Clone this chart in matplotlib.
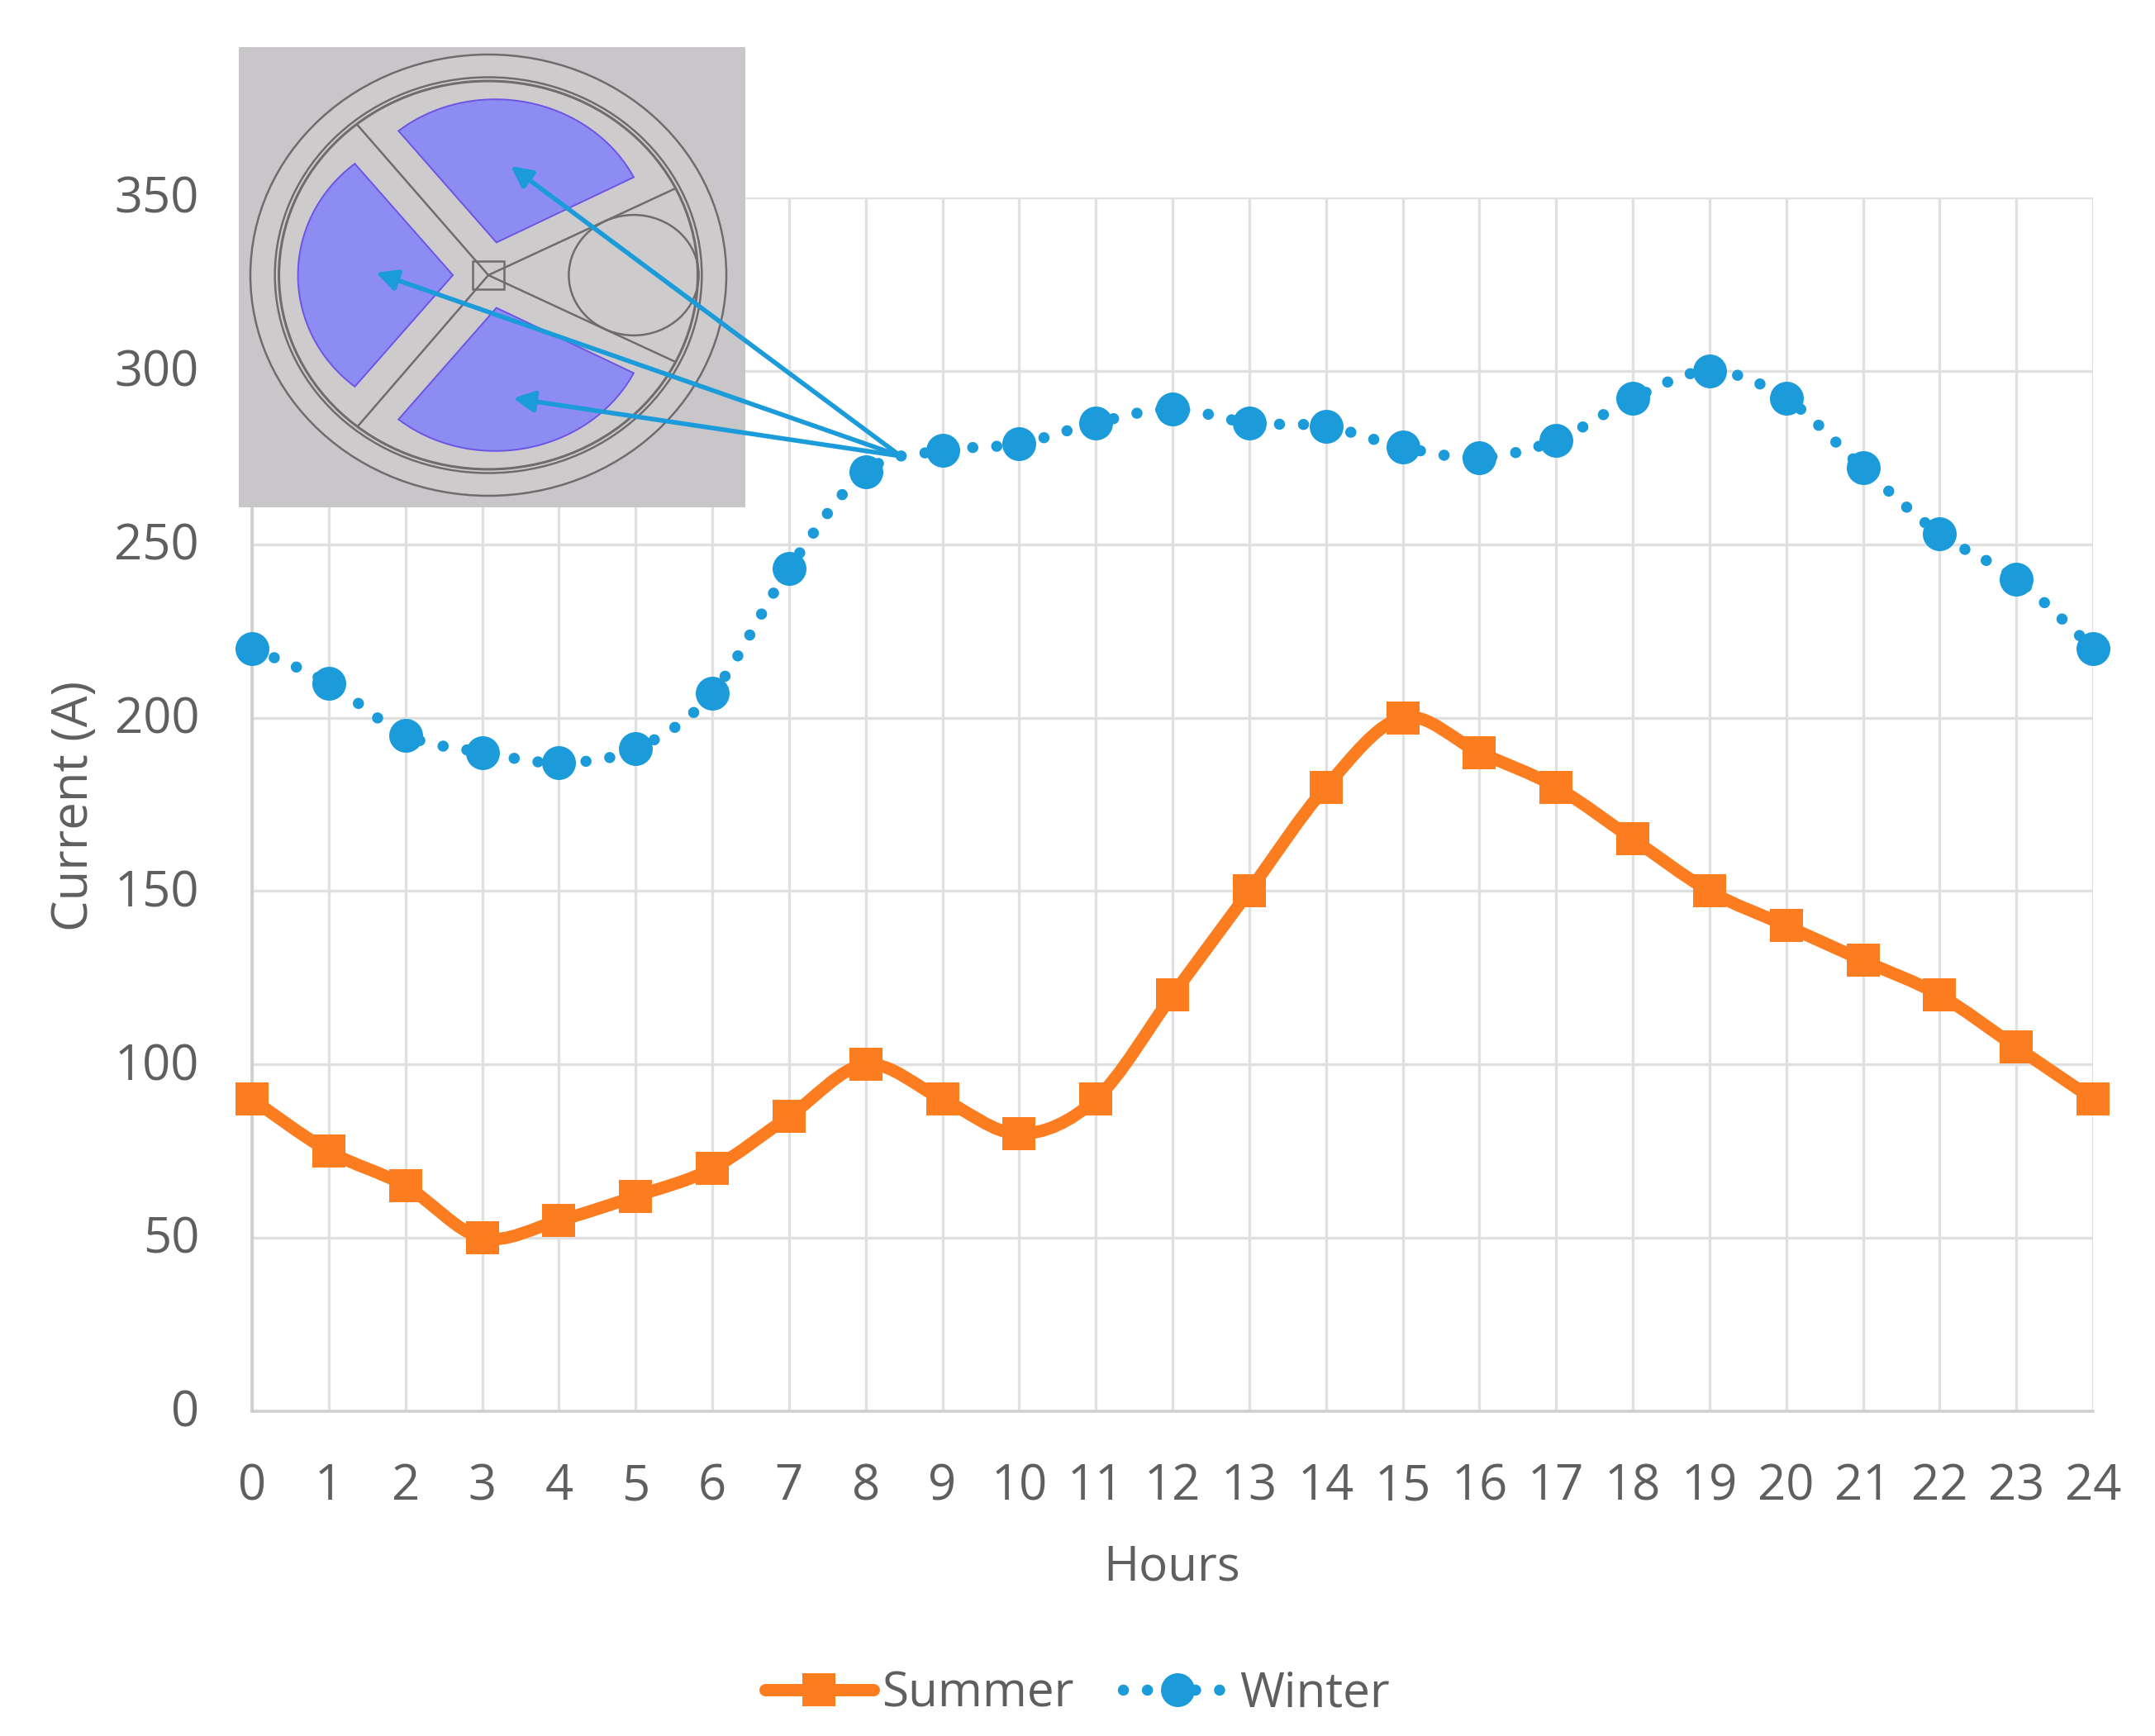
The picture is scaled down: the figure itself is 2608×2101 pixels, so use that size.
import numpy as np
import matplotlib
matplotlib.use("Agg")
import matplotlib.pyplot as plt
from matplotlib.lines import Line2D
from matplotlib.patches import PathPatch, Polygon, Rectangle, Circle
from matplotlib.path import Path
from matplotlib.transforms import ScaledTranslation

plt.rcParams['font.family'] = ['Open Sans', 'DejaVu Sans']

hours = list(range(25))
summer = [90, 75, 65, 50, 55, 62, 70, 85, 100, 90, 80, 90, 120, 150, 180, 200,
          190, 180, 165, 150, 140, 130, 120, 105, 90]
winter = [220, 210, 195, 190, 187, 191, 207, 243, 271, 277, 279, 285, 289, 285,
          284, 278, 275, 280, 292, 300, 292, 272, 253, 240, 220]
y_ticks = [0, 50, 100, 150, 200, 250, 300, 350]

W, H = 2608, 2101
ORANGE = '#FB7D20'
BLUE = '#1B9BD9'
GREY_TEXT = '#5F5F5F'
GRID = '#E0E0E0'


def fx(px):
    return px / W


def fy(py):
    return 1 - py / H


def smooth_path(x, y):
    # same kind of smoothing as a spreadsheet "smoothed line"
    pts = np.column_stack([x, y]).astype(float)
    verts = [pts[0]]
    codes = [Path.MOVETO]
    for i in range(len(pts) - 1):
        prev = pts[max(i - 1, 0)]
        nxt = pts[min(i + 2, len(pts) - 1)]
        verts.append(pts[i] + (pts[i + 1] - prev) / 6)
        verts.append(pts[i + 1] - (nxt - pts[i]) / 6)
        verts.append(pts[i + 1])
        codes += [Path.CURVE4] * 3
    return Path(verts, codes)


fig = plt.figure(figsize=(W / 100, H / 100), dpi=100)
ax = fig.add_axes([fx(305), fy(1708), fx(2533 - 305), (1708 - 239) / H])

ax.set_xlim(0, 24)
ax.set_ylim(0, 350)
ax.set_xticks(hours)
ax.set_yticks(y_ticks)
ax.grid(True, color=GRID, lw=2.4)
ax.set_axisbelow(True)
for side, s in ax.spines.items():
    if side in ('left', 'bottom'):
        s.set_color('#CFCFCF')
        s.set_linewidth(2.6)
    else:
        s.set_visible(False)
ax.tick_params(axis='x', length=0, pad=44, labelsize=43, labelcolor=GREY_TEXT)
ax.tick_params(axis='y', length=0, pad=46, labelsize=43, labelcolor=GREY_TEXT)

# y labels sit a little higher than centred on the grid line
up = ScaledTranslation(0, 3 / 72, fig.dpi_scale_trans)
for tick in ax.yaxis.get_major_ticks():
    tick.label1.set_transform(tick.label1.get_transform() + up)

ax.add_patch(PathPatch(smooth_path(hours, summer), fill=False, ec=ORANGE, lw=10.8,
                       capstyle='round', joinstyle='round', zorder=3, clip_on=False))
ax.add_patch(PathPatch(smooth_path(hours, winter), fill=False, ec=BLUE, lw=9.7,
                       linestyle=(0, (0.01, 2.15)), capstyle='round', zorder=3, clip_on=False))
ax.plot(hours, summer, ls='none', marker='s', ms=29, color=ORANGE, mew=0, zorder=4, clip_on=False)
ax.plot(hours, winter, ls='none', marker='o', ms=29.5, color=BLUE, mew=0, zorder=4, clip_on=False)

ax.set_xlabel('Hours', fontsize=42, color=GREY_TEXT, va='center')
ax.xaxis.set_label_coords(fx(1418), fy(1897), transform=fig.transFigure)
ax.set_ylabel('Current (A)', fontsize=43, color=GREY_TEXT, va='center')
ax.yaxis.set_label_coords(fx(90), fy(975), transform=fig.transFigure)

handles = [
    Line2D([], [], color=ORANGE, lw=10.8, marker='s', ms=29, mew=0, solid_capstyle='round'),
    Line2D([], [], color=BLUE, lw=9.7, ls=(0, (0.01, 2.15)), marker='o', ms=29.5, mew=0,
           dash_capstyle='round'),
]
fig.legend(handles, ['Summer', 'Winter'], loc='center', bbox_to_anchor=(fx(1304), fy(2050)),
           ncol=2, frameon=False, fontsize=42, labelcolor=GREY_TEXT, numpoints=1,
           handlelength=2.25, handletextpad=0.17, columnspacing=1.03, borderpad=0)

# inset picture, unit circle stretched a bit like in the original
inset = fig.add_axes([fx(289), fy(614), fx(902 - 289), (614 - 57) / H], zorder=5)
inset.set_xlim(-302 / 288, 311 / 288)
inset.set_ylim(-281 / 267, 276 / 267)
inset.set_xticks([])
inset.set_yticks([])
inset.set_facecolor('#C8C6C8')
for s in inset.spines.values():
    s.set_visible(False)

LINE = '#6E6C6E'
inset.add_patch(Circle((0, 0), 1.0, fc='#CDCBCB', ec=LINE, lw=1.8))
inset.add_patch(Circle((0, 0), 0.897, fc='none', ec=LINE, lw=1.8))
inset.add_patch(Circle((0, 0), 0.88, fc='none', ec=LINE, lw=2.2))

sectors = [((-0.149, 0.0), 180), ((0.034, 0.148), 78), ((0.034, -0.148), -78)]
for apex, mid in sectors:
    t = np.linspace(-1, 1, 60)
    ang = np.radians(mid + 42 * t)
    r = 0.8 - 0.045 * t ** 2
    xy = np.column_stack([r * np.cos(ang), r * np.sin(ang)])
    xy = np.vstack([[apex], xy])
    inset.add_patch(Polygon(xy, closed=True, fc='#8C8CF2', ec='#6C55E6', lw=1.4))

for x1, y1 in [(-0.552, 0.683), (0.78, 0.39), (0.78, -0.39), (-0.547, -0.683)]:
    inset.plot([0, x1], [0, y1], color=LINE, lw=1.8)
inset.add_patch(Circle((0.611, 0), 0.273, fc='none', ec=LINE, lw=1.8))
inset.add_patch(Rectangle((-0.065, -0.065), 0.13, 0.13, fc='none', ec=LINE, lw=1.8))

tip = (fx(1090), fy(552))
for px, py in [(618, 201), (455, 330), (621, 482)]:
    inset.annotate('', xy=(fx(px), fy(py)), xytext=tip, xycoords='figure fraction',
                   textcoords='figure fraction', annotation_clip=False,
                   arrowprops=dict(arrowstyle='-|>', color=BLUE, lw=4, mutation_scale=38,
                                   shrinkA=0, shrinkB=0, clip_on=False))

fig.savefig('out.png', dpi=100, facecolor='white')
